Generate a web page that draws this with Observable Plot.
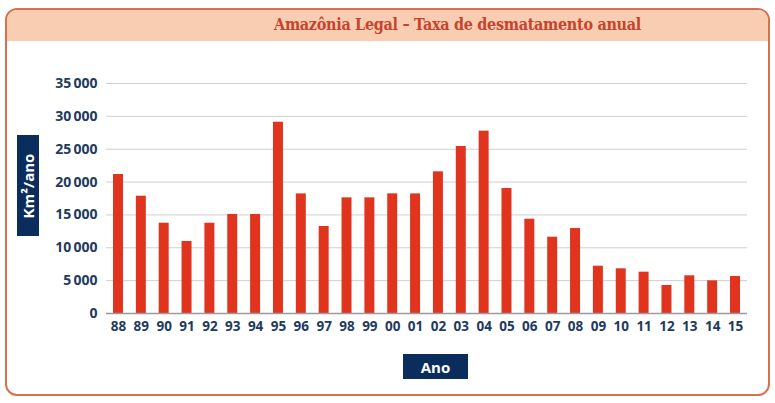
<!DOCTYPE html>
<html><head><meta charset="utf-8">
<script src="https://cdn.jsdelivr.net/npm/d3@7"></script>
<script src="https://cdn.jsdelivr.net/npm/@observablehq/plot@0.6"></script>
<style>
html,body{margin:0;padding:0;background:#fff;}
#wrap{position:relative;width:775px;height:403px;overflow:hidden;background:#fff;font-family:"Open Sans",sans-serif;}
#box{position:absolute;left:5px;top:8px;width:761px;height:384px;border:2px solid #d9704c;border-radius:12px;overflow:hidden;background:#fff;}
#head{position:absolute;left:0;top:0;width:100%;height:31px;background:#f9cdb2;}
#title{position:absolute;left:0;width:100%;top:5px;text-align:center;padding-left:140px;box-sizing:border-box;font-family:"DejaVu Serif Condensed","DejaVu Serif",serif;font-size:16px;font-weight:600;color:#c8432c;letter-spacing:-0.3px;}
#chart{position:absolute;left:0;top:0;}
.lab{position:absolute;background:#0b2d5e;color:#fff;font-weight:700;font-family:"Open Sans",sans-serif;display:flex;align-items:center;justify-content:center;}
#ylab{left:17px;top:135px;width:22px;height:101px;}
#ylab span{transform:rotate(-90deg);white-space:nowrap;font-size:15px;}
#xlab{left:403px;top:354px;width:65px;height:25px;font-size:15px;}
</style></head>
<body>
<div id="wrap">
  <div id="box"><div id="head"></div><div id="title">Amazônia Legal – Taxa de desmatamento anual</div></div>
  <div id="chart"></div>
  <div class="lab" id="ylab"><span>Km²/ano</span></div>
  <div class="lab" id="xlab">Ano</div>
</div>
<script>
const years = ["88","89","90","91","92","93","94","95","96","97","98","99","00","01","02","03","04","05","06","07","08","09","10","11","12","13","14","15"];
const rates = [21150,17850,13740,10960,13740,15070,15070,29110,18200,13240,17600,17600,18210,18200,21560,25410,27750,19020,14350,11610,12930,7200,6800,6290,4260,5740,4970,5630];
const yTicks = [0,5000,10000,15000,20000,25000,30000,35000];

const data = years.map((y,i)=>({year:y, value:rates[i]}));
const fmt = d => d === 0 ? "0" : d3.format(",")(d).replace(/,/g, "\u2009");

const chart = Plot.plot({
  width: 775,
  height: 403,
  marginTop: 83,
  marginBottom: 90,
  marginLeft: 106,
  marginRight: 28,
  style: {background: "transparent", fontFamily: "Open Sans, sans-serif"},
  x: {domain: years, paddingInner: 0.563, paddingOuter: 0.306, round: false, label: null, tickSize: 0, tickPadding: 8},
  y: {domain: [0, 35000], ticks: yTicks, label: null, tickSize: 0, tickPadding: 9, tickFormat: fmt},
  marks: [
    Plot.gridY(yTicks.filter(d=>d>0), {stroke: "#cfcfcf", strokeOpacity: 1, strokeWidth: 1}),
    Plot.barY(data, {x: "year", y: "value", fill: "#e1341f"}),
    Plot.ruleY([0], {stroke: "#9a9a9a", strokeWidth: 1.5}),
    Plot.axisX({tickSize: 0, tickPadding: 8, fontSize: 13.5, fontWeight: 700, fill: "#1e3a5f", label: null}),
    Plot.axisY({ticks: yTicks, tickFormat: fmt, tickSize: 0, tickPadding: 9, fontSize: 14, fontWeight: 700, fill: "#1e3a5f", label: null})
  ]
});
document.getElementById("chart").appendChild(chart);
</script>
</body></html>
